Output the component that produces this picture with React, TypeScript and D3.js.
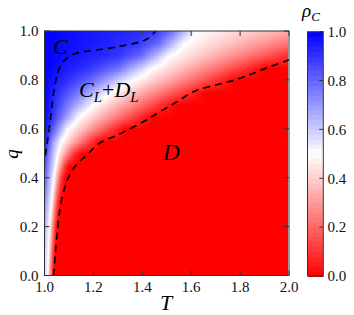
import React from 'react';
import * as d3 from 'd3';

// rho_C: for each q row, [T, rho] knots along the row
const qRows = [0, 0.1, 0.2, 0.3, 0.4, 0.45, 0.5, 0.55, 0.6, 0.65, 0.7, 0.75, 0.8, 0.85, 0.9, 0.95, 1.0];
const rowKnots: [number, number][][] = [
	[[1.0, 0.6], [1.015, 0.5], [1.033, 0.1], [1.04, 0]],
	[[1.0, 0.62], [1.018, 0.5], [1.038, 0.1], [1.045, 0]],
	[[1.0, 0.68], [1.022, 0.5], [1.045, 0.1], [1.053, 0]],
	[[1.0, 0.75], [1.03, 0.5], [1.055, 0.1], [1.065, 0]],
	[[1.0, 0.83], [1.04, 0.5], [1.07, 0.1], [1.085, 0]],
	[[1.0, 0.87], [1.047, 0.5], [1.085, 0.1], [1.1, 0]],
	[[1.0, 0.93], [1.02, 0.75], [1.055, 0.5], [1.12, 0.1], [1.15, 0]],
	[[1.0, 0.97], [1.012, 0.9], [1.035, 0.7], [1.07, 0.5], [1.19, 0.1], [1.23, 0]],
	[[1.0, 1], [1.02, 0.9], [1.05, 0.75], [1.095, 0.5], [1.28, 0.1], [1.33, 0]],
	[[1.0, 1], [1.035, 0.9], [1.075, 0.75], [1.14, 0.5], [1.38, 0.1], [1.44, 0]],
	[[1.0, 1], [1.045, 0.9], [1.1, 0.75], [1.2, 0.5], [1.47, 0.1], [1.54, 0]],
	[[1.0, 1], [1.06, 0.9], [1.13, 0.78], [1.27, 0.5], [1.58, 0.1], [1.66, 0]],
	[[1.0, 1], [1.1, 0.9], [1.2, 0.78], [1.36, 0.5], [1.7, 0.1], [1.78, 0]],
	[[1.0, 1], [1.18, 0.9], [1.3, 0.78], [1.44, 0.5], [1.82, 0.1], [1.9, 0]],
	[[1.0, 1], [1.3, 0.9], [1.4, 0.78], [1.51, 0.5], [1.98, 0.1], [2.0, 0.08]],
	[[1.0, 1], [1.38, 0.9], [1.47, 0.78], [1.57, 0.5], [2.0, 0.22]],
	[[1.0, 1], [1.45, 0.9], [1.52, 0.78], [1.62, 0.5], [2.0, 0.33]],
];

// dashed phase boundaries (T, q)
const boundaryC: [number, number][] = [
	[1.003, 0.49], [1.01, 0.535], [1.019, 0.6], [1.028, 0.673], [1.038, 0.75], [1.048, 0.805],
	[1.062, 0.85], [1.08, 0.878], [1.112, 0.903], [1.166, 0.916], [1.268, 0.93], [1.33, 0.942],
	[1.399, 0.958], [1.43, 0.975], [1.455, 1.0],
];
const boundaryD: [number, number][] = [
	[1.037, 0.0], [1.045, 0.096], [1.057, 0.227], [1.07, 0.31], [1.086, 0.37], [1.11, 0.425],
	[1.141, 0.464], [1.174, 0.493], [1.22, 0.538], [1.31, 0.58], [1.41, 0.632], [1.477, 0.673],
	[1.546, 0.713], [1.614, 0.754], [1.701, 0.779], [1.771, 0.797], [1.836, 0.82], [1.9, 0.846],
	[1.975, 0.873], [2.0, 0.882],
];

const tTicks = [1.0, 1.2, 1.4, 1.6, 1.8, 2.0];
const qTicks = [0.0, 0.2, 0.4, 0.6, 0.8, 1.0];
const cbarTicks = [0.0, 0.2, 0.4, 0.6, 0.8, 1.0];

function interpRow(knots: [number, number][], t: number) {
	if (t <= knots[0][0]) return knots[0][1];
	for (let i = 0; i < knots.length - 1; i++) {
		const [t0, v0] = knots[i];
		const [t1, v1] = knots[i + 1];
		if (t <= t1) return v0 + (v1 - v0) * (t - t0) / (t1 - t0);
	}
	return knots[knots.length - 1][1];
}

function rhoAt(t: number, q: number) {
	let i = d3.bisectRight(qRows, q) - 1;
	i = Math.max(0, Math.min(qRows.length - 2, i));
	const a = interpRow(rowKnots[i], t);
	const b = interpRow(rowKnots[i + 1], t);
	const f = (q - qRows[i]) / (qRows[i + 1] - qRows[i]);
	return a + (b - a) * Math.max(0, Math.min(1, f));
}

const FONT = '"Liberation Serif"';
const AXIS = '#333';

const x = d3.scaleLinear().domain([1, 2]).range([44.5, 289]);
const y = d3.scaleLinear().domain([0, 1]).range([275.5, 31]);
const cy = d3.scaleLinear().domain([0, 1]).range([276, 31.7]);
const color = d3.scaleLinear<string>().domain([0, 0.5, 1]).range(['#ff0000', '#ffffff', '#0000ff']);
const line = d3.line<[number, number]>().x(d => x(d[0])).y(d => y(d[1])).curve(d3.curveCatmullRom);

// heatmap cells: finer columns near T = 1 where the strip is narrow
const tEdges = [...d3.range(1, 1.1, 0.004), ...d3.range(1.1, 2.0001, 1 / 122)];
const qEdges = d3.range(0, 1.0001, 1 / 122);
const cells: { t0: number; t1: number; q0: number; q1: number; v: number }[] = [];
for (let i = 0; i < tEdges.length - 1; i++) {
	for (let j = 0; j < qEdges.length - 1; j++) {
		const t0 = tEdges[i], t1 = tEdges[i + 1];
		const q0 = qEdges[j], q1 = qEdges[j + 1];
		cells.push({ t0, t1, q0, q1, v: rhoAt((t0 + t1) / 2, (q0 + q1) / 2) });
	}
}
const STEPS = 50;

const txt = (size: number, italic = false): React.CSSProperties =>
	({ fontFamily: FONT, fontSize: `${size}px`, fontStyle: italic ? 'italic' : 'normal' });

const App: React.FC = () => {
	const tk = 5;
	const cx0 = 307.5, cx1 = 323.3;

	return (
		<svg width={354} height={315} style={{ position: 'absolute', left: 0, top: 0, background: '#fff' }}>
			<defs>
				<clipPath id="plotclip">
					<rect x={x(1)} y={y(1)} width={x(2) - x(1)} height={y(0) - y(1)} />
				</clipPath>
			</defs>

			{/* heatmap */}
			<g shapeRendering="crispEdges" clipPath="url(#plotclip)">
				{cells.map((d, k) => (
					<rect key={k} x={x(d.t0)} y={y(d.q1)}
						width={x(d.t1) - x(d.t0) + 0.6} height={y(d.q0) - y(d.q1) + 0.6}
						fill={color(d.v)} />
				))}
			</g>

			{/* phase boundaries */}
			{[boundaryC, boundaryD].map((b, k) => (
				<path key={k} d={line(b) || ''} clipPath="url(#plotclip)" fill="none"
					stroke="#000" strokeWidth={1.6} strokeDasharray="7,5" />
			))}

			{/* frame + inward ticks */}
			<rect x={x(1)} y={y(1)} width={x(2) - x(1)} height={y(0) - y(1)} fill="none" stroke={AXIS} />
			<g stroke={AXIS}>
				{tTicks.map(t => (
					<g key={t}>
						<line x1={x(t)} x2={x(t)} y1={y(0)} y2={y(0) - tk} />
						<line x1={x(t)} x2={x(t)} y1={y(1)} y2={y(1) + tk} />
					</g>
				))}
				{qTicks.map(q => (
					<g key={q}>
						<line x1={x(1)} x2={x(1) + tk} y1={y(q)} y2={y(q)} />
						<line x1={x(2)} x2={x(2) - tk} y1={y(q)} y2={y(q)} />
					</g>
				))}
			</g>
			{tTicks.map(t => (
				<text key={t} x={x(t)} y={292} textAnchor="middle" fill="#111" style={txt(15)}>{t.toFixed(1)}</text>
			))}
			{qTicks.map(q => (
				<text key={q} x={38.5} y={y(q)} dy="0.35em" textAnchor="end" fill="#111" style={txt(15)}>{q.toFixed(1)}</text>
			))}

			{/* axis titles */}
			<text x={166} y={310} textAnchor="middle" style={txt(22, true)}>T</text>
			<text transform="translate(18,154) rotate(-90)" textAnchor="middle" style={txt(19, true)}>q</text>

			{/* region labels */}
			<text x={53} y={54} style={txt(22, true)}>C</text>
			<text x={79} y={97} style={txt(22, true)}>
				C<tspan dy={5} style={{ fontSize: '15px' }}>L</tspan>
				<tspan dy={-5} style={{ fontStyle: 'normal' }}>+</tspan>D
				<tspan dy={5} style={{ fontSize: '15px' }}>L</tspan>
			</text>
			<text x={163} y={160} style={txt(23, true)}>D</text>

			{/* colorbar */}
			<g shapeRendering="crispEdges">
				{d3.range(STEPS).map(i => (
					<rect key={i} x={cx0} width={cx1 - cx0} y={cy((i + 1) / STEPS)}
						height={cy(i / STEPS) - cy((i + 1) / STEPS) + 0.5} fill={color((i + 0.5) / STEPS)} />
				))}
			</g>
			<rect x={cx0} y={cy(1)} width={cx1 - cx0} height={cy(0) - cy(1)} fill="none" stroke={AXIS} />
			<g stroke={AXIS}>
				{cbarTicks.map(v => <line key={v} x1={cx1} x2={cx1 - 4} y1={cy(v)} y2={cy(v)} />)}
			</g>
			{cbarTicks.map(v => (
				<text key={v} x={327.5} y={cy(v)} dy="0.35em" fill="#111" style={txt(15)}>{v.toFixed(1)}</text>
			))}
			<text x={302} y={17} style={txt(19, true)}>
				ρ<tspan dy={4} style={{ fontSize: '13px' }}>C</tspan>
			</text>
		</svg>
	);
};

export default App;
